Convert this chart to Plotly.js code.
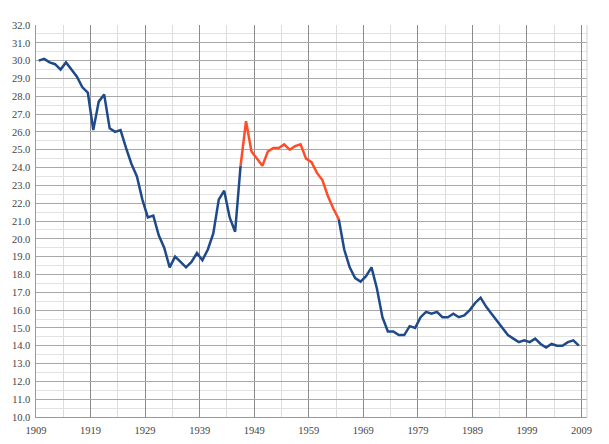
<!DOCTYPE html>
<html>
<head>
<meta charset="utf-8">
<script src="https://cdn.plot.ly/plotly-3.0.1.min.js"></script>
<style>
  html, body { margin: 0; padding: 0; background: #fff; }
  #chart { width: 609px; height: 444px; }
</style>
</head>
<body>
<div id="chart"></div>
<script>
// Births per 1000 population, 1909-2008
const years = [];
for (let y = 1909; y <= 2008; y++) years.push(y);

const birthRate = [
    30.0, 30.1, 29.9, 29.8, 29.5, 29.9, 29.5, 29.1, 28.5, 28.2,
    26.1, 27.7, 28.1, 26.2, 26.0, 26.1, 25.1, 24.2, 23.5, 22.2,
    21.2, 21.3, 20.2, 19.5, 18.4, 19.0, 18.7, 18.4, 18.7, 19.2,
    18.8, 19.4, 20.3, 22.2, 22.7, 21.2, 20.4, 24.1, 26.6, 24.9,
    24.5, 24.1, 24.9, 25.1, 25.1, 25.3, 25.0, 25.2, 25.3, 24.5,
    24.3, 23.7, 23.3, 22.4, 21.7, 21.1, 19.4, 18.4, 17.8, 17.6,
    17.9, 18.4, 17.2, 15.6, 14.8, 14.8, 14.6, 14.6, 15.1, 15.0,
    15.6, 15.9, 15.8, 15.9, 15.6, 15.6, 15.8, 15.6, 15.7, 16.0,
    16.4, 16.7, 16.2, 15.8, 15.4, 15.0, 14.6, 14.4, 14.2, 14.3,
    14.2, 14.4, 14.1, 13.9, 14.1, 14.0, 14.0, 14.2, 14.3, 14.0
];

// baby boom years drawn in red
const boomStart = 1946;
const boomEnd = 1964;

const tickYears = [1909, 1919, 1929, 1939, 1949, 1959, 1969, 1979, 1989, 1999, 2009];

function segment(from, to) {
    const x = [], y = [];
    years.forEach((yr, i) => {
        if (yr >= from && yr <= to) {
            x.push(yr);
            y.push(birthRate[i]);
        }
    });
    return { x, y };
}

const before = segment(1909, boomStart);
const boom = segment(boomStart, boomEnd);
const after = segment(boomEnd, 2008);

const blue = '#1F4A8A';
const red = '#FF4D28';

const traces = [
    { x: before.x, y: before.y, type: 'scatter', mode: 'lines', line: { color: blue, width: 2.5 }, hoverinfo: 'x+y' },
    { x: boom.x, y: boom.y, type: 'scatter', mode: 'lines', line: { color: red, width: 2.5 }, hoverinfo: 'x+y' },
    { x: after.x, y: after.y, type: 'scatter', mode: 'lines', line: { color: blue, width: 2.5 }, hoverinfo: 'x+y' }
];

const tickFont = { family: '"Liberation Serif", "Times New Roman", serif', size: 10.5, color: '#444' };

const layout = {
    width: 609,
    height: 444,
    margin: { l: 36, r: 22, t: 25, b: 27 },
    paper_bgcolor: '#fff',
    plot_bgcolor: '#fff',
    showlegend: false,
    xaxis: {
        // categories sit between the gridlines, so ticks are half a year to the left
        range: [1908.5, 2009.5],
        tickmode: 'array',
        tickvals: tickYears.map(y => y - 0.5),
        ticktext: tickYears.map(String),
        ticks: '',
        ticklabelstandoff: 3,
        tickfont: tickFont,
        showgrid: true,
        gridcolor: '#8a8a8a',
        gridwidth: 1,
        minor: { tick0: 1908.5, dtick: 5, showgrid: true, gridcolor: '#dcdcdc', gridwidth: 1 },
        showline: true,
        linecolor: '#999',
        linewidth: 1,
        mirror: false,
        zeroline: false,
        fixedrange: true
    },
    yaxis: {
        range: [10, 32],
        dtick: 1,
        tick0: 10,
        tickformat: '.1f',
        ticks: '',
        tickfont: tickFont,
        ticksuffix: ' ',
        showgrid: true,
        gridcolor: '#a8a8a8',
        gridwidth: 1,
        minor: { dtick: 0.5, showgrid: true, gridcolor: '#e2e2e2', gridwidth: 1 },
        showline: true,
        linecolor: '#999',
        linewidth: 1,
        zeroline: false,
        fixedrange: true
    },
    shapes: [{
        type: 'line', xref: 'paper', yref: 'paper',
        x0: 1, x1: 1, y0: 0, y1: 1,
        line: { color: '#d0d0d0', width: 1 }
    }]
};

Plotly.newPlot('chart', traces, layout, { displayModeBar: false, staticPlot: true });
</script>
</body>
</html>
